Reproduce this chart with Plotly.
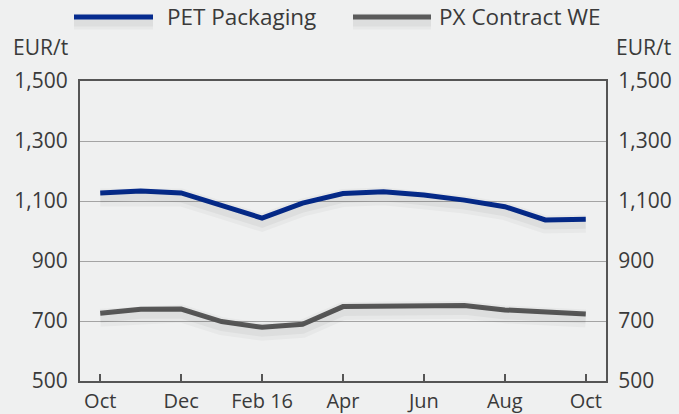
import plotly.graph_objects as go

months = ["Oct", "Nov", "Dec", "Jan", "Feb 16", "Mar", "Apr", "May", "Jun", "Jul", "Aug", "Sep", "Oct"]
pet_packaging = [1127, 1133, 1127, 1085, 1043, 1093, 1125, 1131, 1120, 1103, 1081, 1037, 1039]
px_contract_we = [726, 739, 740, 698, 679, 689, 748, 750, 751, 752, 737, 729, 723]
y_ticks = [500, 700, 900, 1100, 1300, 1500]

BLUE = "#062c8f"
GREY = "#5b5b5b"
AXIS = "#555555"
BG = "#eff0f0"
FONT = dict(family="Open Sans", size=21, color="#3a3a3a")
XFONT = dict(family="Open Sans", size=20, color="#3a3a3a")
LFONT = dict(family="Open Sans", size=22.5, color="#3a3a3a")

x = list(range(len(months)))
tick_idx = x[::2]

fig = go.Figure()

# soft drop shadow under the lines: same data on a slightly shifted axis
for series in (pet_packaging, px_contract_we):
    for w, a in [(18, 0.03), (10, 0.04)]:
        fig.add_trace(go.Scatter(x=x, y=series, yaxis="y3", mode="lines", showlegend=False,
                                 hoverinfo="skip", line=dict(color=f"rgba(0,0,0,{a})", width=w)))

fig.add_trace(go.Scatter(x=x, y=pet_packaging, mode="lines", name="PET Packaging",
                         line=dict(color=BLUE, width=5)))
fig.add_trace(go.Scatter(x=x, y=px_contract_we, mode="lines", name="PX Contract WE",
                         line=dict(color=GREY, width=5)))
# invisible trace just to carry the right-hand axis
fig.add_trace(go.Scatter(x=[x[0]], y=[y_ticks[0]], yaxis="y2", mode="lines",
                         showlegend=False, hoverinfo="skip", line=dict(width=0)))

yaxis_common = dict(range=[500, 1500], tickvals=y_ticks, tickformat=",",
                    showline=True, linecolor=AXIS, linewidth=2, ticks="",
                    tickfont=FONT, zeroline=False, automargin=False)

fig.update_layout(
    width=679, height=414,
    margin=dict(l=80, r=73, t=81, b=33),
    paper_bgcolor=BG, plot_bgcolor=BG,
    font=FONT,
    showlegend=False,
    xaxis=dict(range=[-0.5, 12.5], tickvals=tick_idx, ticktext=[months[i] for i in tick_idx],
               showgrid=False, showline=True, mirror=True, linecolor=AXIS, linewidth=2,
               ticks="inside", ticklen=7, tickwidth=2, tickcolor=AXIS, tickfont=XFONT,
               zeroline=False, automargin=False, ticklabelstandoff=1),
    yaxis=dict(**yaxis_common, side="left", showgrid=True, gridcolor="#a4a4a4", gridwidth=1,
               ticklabelstandoff=6),
    yaxis2=dict(**yaxis_common, side="right", overlaying="y", showgrid=False,
                ticklabelstandoff=6),
    yaxis3=dict(range=[515, 1515], overlaying="y", visible=False),
)

# unit labels above both axes
for xpos, shift in [(0.0, -69), (1.0, 8)]:
    fig.add_annotation(text="EUR/t", xref="paper", yref="paper", x=xpos, y=1.0,
                       xshift=shift, yshift=34, xanchor="left", yanchor="middle",
                       showarrow=False, font=FONT)

# legend drawn by hand to get the long line keys
legend_items = [("PET Packaging", BLUE, 74, 153, 165), ("PX Contract WE", GREY, 353, 431, 437)]
ly = (381 - 17) / 300
for label, color, x0, x1, tx in legend_items:
    for w, a in [(16, 0.03), (10, 0.04)]:
        fig.add_shape(type="line", xref="paper", yref="paper",
                      x0=(x0 - 80) / 526, x1=(x1 - 80) / 526, y0=ly - 0.015, y1=ly - 0.015,
                      line=dict(color=f"rgba(0,0,0,{a})", width=w))
    fig.add_shape(type="line", xref="paper", yref="paper",
                  x0=(x0 - 80) / 526, x1=(x1 - 80) / 526, y0=ly, y1=ly,
                  line=dict(color=color, width=5))
    fig.add_annotation(text=label, xref="paper", yref="paper", x=(tx - 80) / 526,
                       y=ly, xanchor="left", yanchor="middle",
                       showarrow=False, font=LFONT)

# drop the default 8px body margin so the figure fills the window exactly
fig.write_html("out.html", config={"displayModeBar": False},
               post_script="document.body.style.margin='0';")
